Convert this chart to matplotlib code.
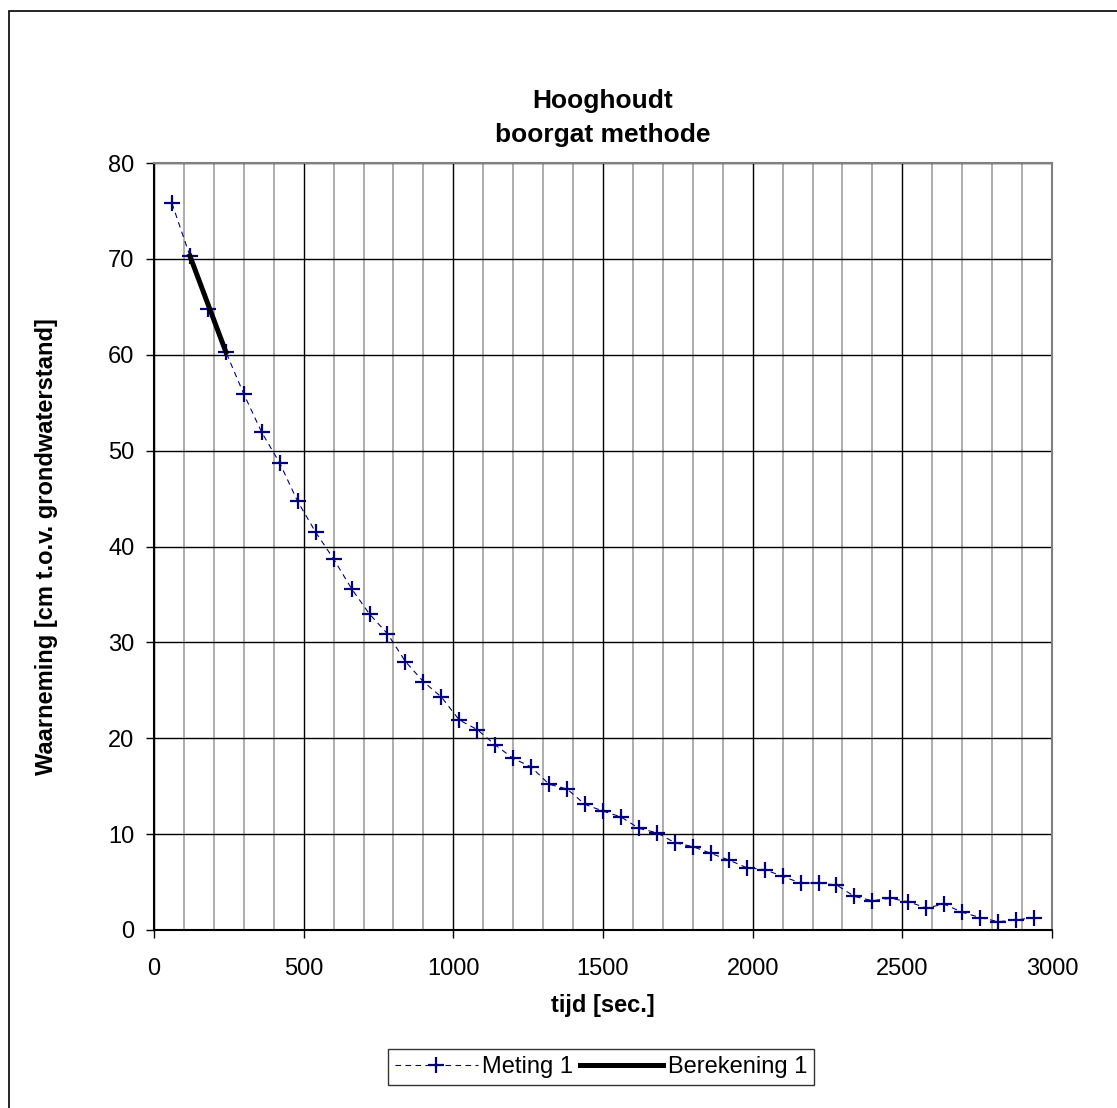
import matplotlib
matplotlib.use("Agg")
import matplotlib.pyplot as plt
from matplotlib.patches import Rectangle
from matplotlib.ticker import MultipleLocator

plt.rcParams["font.family"] = ["Liberation Sans", "DejaVu Sans"]

# data
tijd = [60, 120, 180, 240, 300, 360, 420, 480, 540, 600, 660, 720, 780, 840,
        900, 960, 1020, 1080, 1140, 1200, 1260, 1320, 1380, 1440, 1500, 1560,
        1620, 1680, 1740, 1800, 1860, 1920, 1980, 2040, 2100, 2160, 2220, 2280,
        2340, 2400, 2460, 2520, 2580, 2640, 2700, 2760, 2820, 2880, 2940]
meting_1 = [75.8, 70.3, 64.8, 60.3, 55.9, 51.9, 48.7, 44.7, 41.5, 38.7, 35.6,
            32.95, 30.9, 28.0, 25.9, 24.3, 21.9, 20.9, 19.3, 17.9, 17.0, 15.2,
            14.7, 13.1, 12.4, 11.8, 10.6, 10.15, 9.1, 8.7, 8.0, 7.3, 6.5, 6.3,
            5.6, 4.9, 4.9, 4.7, 3.5, 3.06, 3.3, 2.95, 2.3, 2.7, 1.85, 1.3,
            0.87, 1.04, 1.3]
ber_tijd = [120, 180, 240]
berekening_1 = [70.3, 65.3, 60.3]

navy = "#000080"

fig = plt.figure(figsize=(11.17, 11.08), dpi=100)
fig.patches.append(Rectangle((9 / 1117, -0.1), 1.2, 1 - 11 / 1108 + 0.1,
                             transform=fig.transFigure, fill=False,
                             edgecolor="black", linewidth=1.2))
ax = fig.add_axes([154 / 1117, 1 - 930 / 1108, 898 / 1117, 767 / 1108])

ax.set_xlim(0, 3000)
ax.set_ylim(0, 80)
ax.xaxis.set_major_locator(MultipleLocator(500))
ax.xaxis.set_minor_locator(MultipleLocator(100))
ax.yaxis.set_major_locator(MultipleLocator(10))

ax.grid(which="minor", axis="x", color="#a0a0a0", linewidth=1.2)
ax.grid(which="major", axis="x", color="black", linewidth=1.0)
ax.grid(which="major", axis="y", color="black", linewidth=1.0)
ax.set_axisbelow(True)

ax.plot(tijd, meting_1, color=navy, linestyle=(0, (5, 4)), linewidth=0.8,
        marker="+", markersize=12, markeredgewidth=1.6, label="Meting 1")
ax.plot(ber_tijd, berekening_1, color="black", linewidth=3.6,
        label="Berekening 1")

for side in ["top", "right"]:
    ax.spines[side].set_color("#808080")
    ax.spines[side].set_linewidth(1.5)
for side in ["left", "bottom"]:
    ax.spines[side].set_color("black")
    ax.spines[side].set_linewidth(1.5)

ax.tick_params(axis="both", which="major", direction="out", length=6,
               width=1, labelsize=17, pad=8)
ax.tick_params(axis="x", which="major", pad=14)
ax.tick_params(axis="x", which="minor", length=0)

ax.set_xlabel("tijd [sec.]", fontsize=17, fontweight="bold", labelpad=10)
ax.set_ylabel("Waarneming [cm t.o.v. grondwaterstand]", fontsize=17,
              fontweight="bold", labelpad=36)
fig.text(603 / 1117, 1 - 118 / 1108, "Hooghoudt\nboorgat methode",
         ha="center", va="center", fontsize=19, fontweight="bold",
         linespacing=1.55)

leg = fig.legend(loc="center", bbox_to_anchor=(601 / 1117, 1 - 1067 / 1108),
                 ncol=2, fontsize=17, frameon=True, fancybox=False,
                 borderpad=0.3, handlelength=3.5, columnspacing=0.3,
                 handletextpad=0.2, borderaxespad=0)
leg.get_frame().set_edgecolor("black")
leg.get_frame().set_linewidth(1.0)

fig.savefig("out.png", dpi=100)
